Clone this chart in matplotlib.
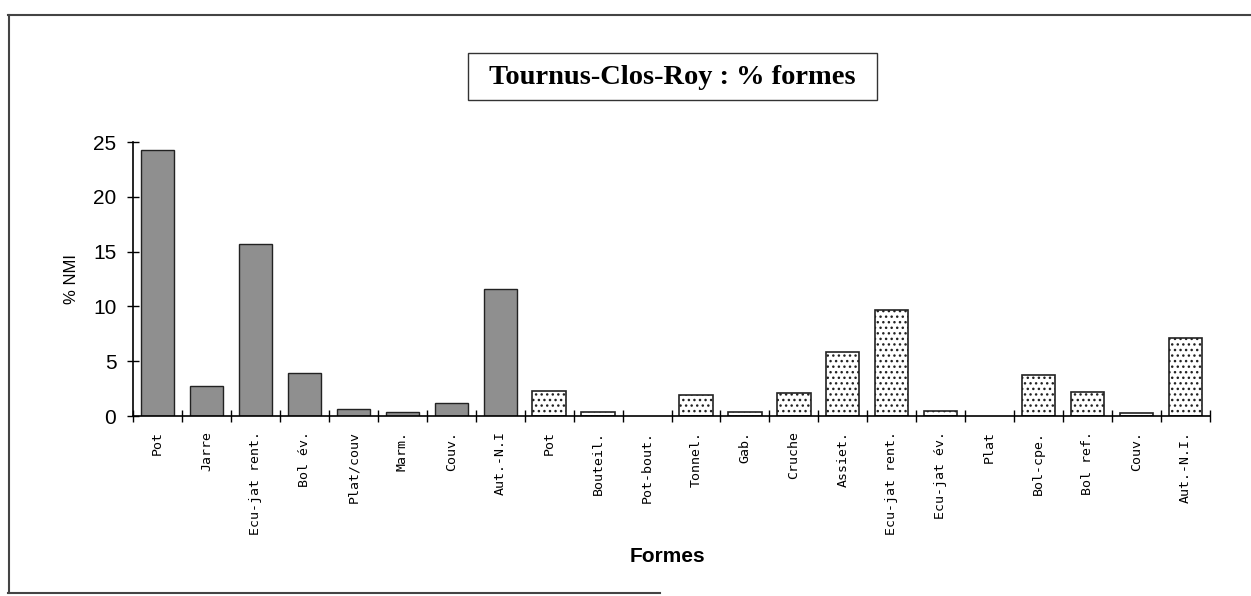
import numpy as np
import matplotlib
matplotlib.use("Agg")
import matplotlib.pyplot as plt
from matplotlib.lines import Line2D
from matplotlib.patches import Rectangle

plt.rcParams["hatch.linewidth"] = 1.0

# --- données ---
categories = ["Pot", "Jarre", "Ecu-jat rent.", "Bol év.", "Plat/couv", "Marm.",
              "Couv.", "Aut.-N.I", "Pot", "Bouteil.", "Pot-bout.", "Tonnel.",
              "Gab.", "Cruche", "Assiet.", "Ecu-jat rent.", "Ecu-jat év.", "Plat",
              "Bol-cpe.", "Bol ref.", "Couv.", "Aut.-N.I."]
values = [24.3, 2.7, 15.7, 3.9, 0.6, 0.4, 1.2, 11.6,
          2.3, 0.4, 0.0, 1.9, 0.4, 2.1, 5.8, 9.7, 0.5, 0.0, 3.7, 2.2, 0.3, 7.1]
n_dark = 8  # premières formes en gris, le reste en pointillé
yticks = [0, 5, 10, 15, 20, 25]

fig = plt.figure(figsize=(12.51, 5.96), dpi=100)
ax = fig.add_axes([133 / 1251, 1 - 416 / 596, 1077 / 1251, 274 / 596])

x = np.arange(len(categories))
for i, (xi, v) in enumerate(zip(x, values)):
    if v <= 0:
        continue
    if i < n_dark:
        ax.bar(xi, v, width=0.68, color="#8f8f8f", edgecolor="#222222", linewidth=1.0)
    else:
        ax.bar(xi, v, width=0.68, color="white", edgecolor="#222222", linewidth=1.2,
               hatch="...")

ax.set_xlim(-0.5, len(categories) - 0.5)
ax.set_ylim(0, 25)
ax.set_yticks(yticks)
ax.set_yticklabels([str(t) for t in yticks], fontsize=15, family="Liberation Sans")
ax.tick_params(axis="y", direction="inout", length=8, width=1.0, pad=8)

ax.set_xticks(x)
ax.set_xticklabels(categories, rotation=90, fontsize=9.5, family="DejaVu Sans Mono",
                   va="top", ha="center")
ax.set_xticks(np.arange(-0.5, len(categories)), minor=True)
ax.tick_params(axis="x", which="major", length=0, pad=11)
ax.tick_params(axis="x", which="minor", direction="inout", length=9, width=1.0)

for s in ["top", "right"]:
    ax.spines[s].set_visible(False)
for s in ["left", "bottom"]:
    ax.spines[s].set_linewidth(1.2)
ax.grid(False)

ax.set_ylabel("% NMI", fontsize=12, family="Liberation Sans", labelpad=10)
fig.text(667 / 1251, 1 - 557 / 596, "Formes", fontsize=15, fontweight="bold",
         family="Liberation Sans", ha="center", va="center")

# titre encadré
fig.add_artist(Rectangle((468 / 1251, 1 - 100 / 596), 409 / 1251, 47 / 596,
                         transform=fig.transFigure, facecolor="white",
                         edgecolor="#333333", linewidth=1.0))
fig.text(672 / 1251, 1 - 77 / 596, "Tournus-Clos-Roy : % formes", fontsize=20.5,
         fontweight="bold", family="Liberation Serif", ha="center", va="center")

# cadre de la page scannée
fig.add_artist(Line2D([8 / 1251, 1.0], [1 - 15 / 596] * 2, color="#444444", lw=1.5))
fig.add_artist(Line2D([9 / 1251] * 2, [1 - 15 / 596, 1 - 593 / 596], color="#444444", lw=1.5))
fig.add_artist(Line2D([8 / 1251, 660 / 1251], [1 - 593 / 596] * 2, color="#444444", lw=1.5))

fig.savefig("out.png", dpi=100)
